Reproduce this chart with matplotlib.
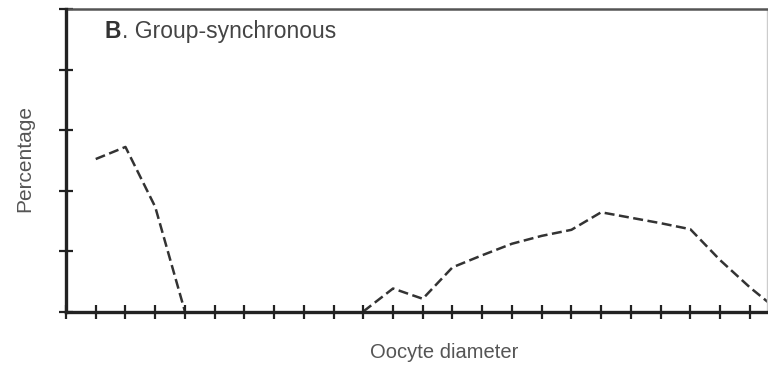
import numpy as np
import matplotlib.pyplot as plt

plt.rcParams['font.family'] = ['Liberation Sans', 'DejaVu Sans']

# oocyte diameter classes (tick index) and percentage values
size_class = [1, 2, 3, 4, 5, 6, 7, 8, 9, 10, 11, 12, 13, 14, 15, 16, 17, 18, 19, 20, 21, 22, 23, 24]
percent = [25.2, 27.2, 17.3, 0, 0, 0, 0, 0, 0, 0, 3.8, 2.1, 7.3, 9.3, 11.2, 12.5, 13.5,
           16.4, 15.5, 14.6, 13.6, 8.5, 4.0, 0]

# the curve lies on the axis where runs of zeros are, so don't draw those stretches
vals = np.array(percent, dtype=float)
prev_zero = np.r_[False, vals[:-1] == 0]
next_zero = np.r_[vals[1:] == 0, False]
shown = np.where((vals == 0) & prev_zero & next_zero, np.nan, vals)

fig = plt.figure(figsize=(7.68, 3.73), dpi=100)
ax = fig.add_axes([66 / 768, 61.5 / 373, 701 / 768, 302.5 / 373])

ax.plot(size_class, shown, color="#333333", lw=1.8, dashes=(4, 1.8), zorder=1)

ax.set_xlim(0, 701 / 29.73)
ax.set_ylim(0, 50)
ax.set_xticks(np.arange(0, 24))
ax.set_yticks(np.arange(0, 51, 10))
ax.tick_params(direction="inout", length=10, width=1.6, color="#222222",
               labelbottom=False, labelleft=False)

for side in ["left", "bottom"]:
    ax.spines[side].set_linewidth(2.4)
    ax.spines[side].set_color("#222222")
    ax.spines[side].set_zorder(3)
ax.spines["top"].set_linewidth(1.8)
ax.spines["top"].set_color("#555555")
ax.spines["right"].set_linewidth(1)
ax.spines["right"].set_color("#cccccc")

# panel title: bold letter followed by normal text
lead = ax.text((105 - 66) / 701, 0.927, "B", transform=ax.transAxes, fontsize=16.5,
               fontweight="bold", color="#333333", va="center", ha="left")
ax.annotate(". Group-synchronous", xy=(1, 0.5), xycoords=lead, fontsize=16.5,
            color="#444444", va="center", ha="left")

fig.text(444 / 768, 20 / 373, "Oocyte diameter", fontsize=14.5, color="#555555",
         ha="center", va="center")
fig.text(25 / 768, (373 - 158.5) / 373, "Percentage", fontsize=15, color="#555555",
         ha="center", va="center", rotation=90)

fig.savefig("out.png", dpi=100)
